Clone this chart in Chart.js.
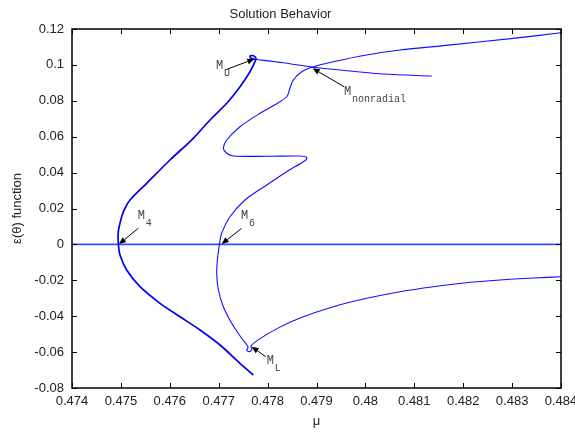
<!DOCTYPE html>
<html>
<head>
<meta charset="utf-8">
<title>Solution Behavior</title>
<script src="https://cdn.jsdelivr.net/npm/chart.js@4.4.1/dist/chart.umd.min.js"></script>
<style>
  html, body { margin: 0; padding: 0; background: #fff; }
</style>
</head>
<body>
<canvas id="chart" width="575" height="432"></canvas>
<script>
// branch through M4 (bottom end -> M_U loop)
const muLeft = [0.477708, 0.477436, 0.477027, 0.476618, 0.476209, 0.475800, 0.475391, 0.475118,
  0.474982, 0.474947, 0.474947, 0.475016, 0.475080, 0.475186, 0.475527, 0.476004, 0.476481, 0.476822,
  0.477164, 0.477436, 0.477640, 0.477742, 0.477763, 0.477708, 0.477640, 0.477661, 0.477742];
const epsLeft = [-0.07276, -0.06624, -0.05604, -0.04769, -0.04028, -0.03282, -0.02357, -0.01426,
  -0.00591, 0.00061, 0.00707, 0.01543, 0.02000, 0.02474, 0.03404, 0.04702, 0.05911, 0.06930,
  0.07861, 0.08786, 0.09621, 0.10178, 0.10368, 0.10513, 0.10496, 0.10368, 0.10312];

// thin branch leaving M_U to the right
const muUpper = [0.477742, 0.478321, 0.478934, 0.479685, 0.480366, 0.481356];
const epsUpper = [0.10312, 0.10123, 0.09866, 0.09660, 0.09493, 0.09382];

// branch through M_L, M6 and M_nonradial
const muRight = [0.484, 0.483434, 0.482753, 0.482071, 0.481389, 0.480708, 0.480026, 0.479344,
  0.478663, 0.478222, 0.477845, 0.477660, 0.477680, 0.477630, 0.477575, 0.477600,
  0.477470, 0.477266, 0.477095, 0.476994, 0.476960, 0.476973, 0.477013, 0.477061, 0.477231,
  0.477538, 0.477981, 0.478390, 0.478785, 0.478799, 0.478663, 0.477981, 0.477299, 0.477164,
  0.477095, 0.477164, 0.477436, 0.477845, 0.478254, 0.478403, 0.478444, 0.478526, 0.478697,
  0.478934, 0.479344, 0.480026, 0.480708, 0.481700, 0.483025, 0.484];
const epsRight = [-0.0180, -0.01872, -0.01983, -0.02134, -0.02357, -0.02635, -0.03003, -0.03471,
  -0.04100, -0.04650, -0.05250, -0.05650, -0.05850, -0.05975, -0.05900, -0.05720,
  -0.05231, -0.04396, -0.03471, -0.02540, -0.01610, -0.00869, -0.00033, 0.00618, 0.01543,
  0.02474, 0.03309, 0.04050, 0.04702, 0.04852, 0.04925, 0.04908, 0.04925, 0.05075,
  0.05354, 0.05816, 0.06557, 0.07304, 0.07950, 0.08267, 0.08602, 0.09159, 0.09621,
  0.09900, 0.10178, 0.10552, 0.10830, 0.11100, 0.11480, 0.11790];

// trivial solution
const muZero = [0.474, 0.484];
const epsZero = [0, 0];

const xTickValues = [0.474, 0.475, 0.476, 0.477, 0.478, 0.479, 0.48, 0.481, 0.482, 0.483, 0.484];
const xTickLabels = ["0.474", "0.475", "0.476", "0.477", "0.478", "0.479", "0.48", "0.481", "0.482", "0.483", "0.484"];
const yTickValues = [-0.08, -0.06, -0.04, -0.02, 0, 0.02, 0.04, 0.06, 0.08, 0.1, 0.12];
const yTickLabels = ["-0.08", "-0.06", "-0.04", "-0.02", "0", "0.02", "0.04", "0.06", "0.08", "0.1", "0.12"];

// arrow labels: text anchor, arrow tail and arrow tip, in data units
const noteSub = ["4", "6", "U", "L", "nonradial"];
const noteTextMu = [0.475343, 0.477456, 0.476945, 0.477981, 0.479562];
const noteTextEps = [0.0140, 0.0140, 0.09755, -0.06663, 0.08323];
const noteTailMu = [0.475356, 0.477470, 0.477129, 0.477961, 0.479562];
const noteTailEps = [0.00897, 0.00897, 0.09716, -0.06256, 0.08786];
const noteTipMu = [0.474961, 0.477061, 0.477728, 0.477675, 0.478922];
const noteTipEps = [0.00022, 0.00022, 0.10329, -0.05700, 0.09810];

const sansFont = "'Liberation Sans', Arial, sans-serif";

function toPoints(xs, ys) {
  return xs.map((x, i) => ({ x: x, y: ys[i] }));
}

const frameAndNotes = {
  id: "frameAndNotes",
  afterDraw(chart) {
    const { ctx, chartArea: a, scales } = chart;
    ctx.save();
    // frame with inward ticks on all sides (gnuplot style)
    ctx.strokeStyle = "#000";
    ctx.lineWidth = 1.5;
    ctx.strokeRect(a.left, a.top, a.right - a.left, a.bottom - a.top);
    ctx.lineWidth = 1;
    ctx.beginPath();
    xTickValues.forEach((v) => {
      const px = Math.round(scales.x.getPixelForValue(v)) + 0.5;
      ctx.moveTo(px, a.bottom); ctx.lineTo(px, a.bottom - 5);
      ctx.moveTo(px, a.top); ctx.lineTo(px, a.top + 5);
    });
    yTickValues.forEach((v) => {
      const py = Math.round(scales.y.getPixelForValue(v)) + 0.5;
      ctx.moveTo(a.left, py); ctx.lineTo(a.left + 5, py);
      ctx.moveTo(a.right, py); ctx.lineTo(a.right - 5, py);
    });
    ctx.stroke();

    // arrows and labels
    noteSub.forEach((sub, i) => {
      const x0 = scales.x.getPixelForValue(noteTailMu[i]);
      const y0 = scales.y.getPixelForValue(noteTailEps[i]);
      const x1 = scales.x.getPixelForValue(noteTipMu[i]);
      const y1 = scales.y.getPixelForValue(noteTipEps[i]);
      const ang = Math.atan2(y1 - y0, x1 - x0);
      const len = 7, half = 3;
      const bx = x1 - len * Math.cos(ang), by = y1 - len * Math.sin(ang);
      ctx.strokeStyle = "#000";
      ctx.lineWidth = 1;
      ctx.beginPath();
      ctx.moveTo(x0, y0);
      ctx.lineTo(bx, by);
      ctx.stroke();
      ctx.fillStyle = "#000";
      ctx.beginPath();
      ctx.moveTo(x1, y1);
      ctx.lineTo(bx + half * Math.sin(ang), by - half * Math.cos(ang));
      ctx.lineTo(bx - half * Math.sin(ang), by + half * Math.cos(ang));
      ctx.closePath();
      ctx.fill();

      const tx = scales.x.getPixelForValue(noteTextMu[i]);
      const ty = scales.y.getPixelForValue(noteTextEps[i]);
      ctx.fillStyle = "#444";
      ctx.textAlign = "left";
      ctx.textBaseline = "alphabetic";
      ctx.font = "12px 'Liberation Mono', 'DejaVu Sans Mono', monospace";
      ctx.fillText("M", tx, ty);
      ctx.font = "10px 'Liberation Mono', 'DejaVu Sans Mono', monospace";
      ctx.fillText(sub, tx + 8, ty + 7);
    });
    ctx.restore();
  },
};

const lineStyle = {
  showLine: true,
  pointRadius: 0,
  pointHoverRadius: 0,
  fill: false,
  tension: 0.3,
};

new Chart(document.getElementById("chart"), {
  type: "scatter",
  data: {
    datasets: [
      { ...lineStyle, data: toPoints(muLeft, epsLeft), borderColor: "#0000f0", borderWidth: 1.7 },
      { ...lineStyle, data: toPoints(muUpper, epsUpper), borderColor: "#1010ff", borderWidth: 1.1 },
      { ...lineStyle, data: toPoints(muRight, epsRight), borderColor: "#1010ff", borderWidth: 1.1 },
      { ...lineStyle, data: toPoints(muZero, epsZero), borderColor: "#3050ff", borderWidth: 1.6, tension: 0 },
    ],
  },
  options: {
    responsive: false,
    animation: false,
    layout: { padding: { left: 0, right: 14, top: 0, bottom: 0 } },
    plugins: {
      legend: { display: false },
      tooltip: { enabled: false },
      title: {
        display: true,
        text: "Solution Behavior",
        color: "#222",
        font: { family: sansFont, size: 13, weight: "normal" },
        padding: { top: 6.2, bottom: 7.2 },
      },
    },
    scales: {
      x: {
        type: "linear",
        min: 0.474,
        max: 0.484,
        grid: { display: false, drawTicks: false },
        border: { display: false },
        afterBuildTicks: (scale) => { scale.ticks = xTickValues.map((v) => ({ value: v })); },
        afterFit: (scale) => { scale.height = 44; scale.paddingLeft = 0; scale.paddingRight = 0; },
        ticks: {
          autoSkip: false,
          maxRotation: 0,
          padding: 6,
          color: "#222",
          font: { family: sansFont, size: 13 },
          callback: (value, index) => xTickLabels[index],
        },
        title: {
          display: true,
          text: "μ",
          color: "#222",
          font: { family: sansFont, size: 13 },
          padding: { top: 0, bottom: 2.5 },
        },
      },
      y: {
        type: "linear",
        min: -0.08,
        max: 0.12,
        grid: { display: false, drawTicks: false },
        border: { display: false },
        afterBuildTicks: (scale) => { scale.ticks = yTickValues.map((v) => ({ value: v })); },
        afterFit: (scale) => { scale.width = 72; },
        ticks: {
          autoSkip: false,
          padding: 8,
          color: "#222",
          font: { family: sansFont, size: 13 },
          callback: (value, index) => yTickLabels[index],
        },
        title: {
          display: true,
          text: "ε(θ) function",
          color: "#222",
          font: { family: sansFont, size: 13 },
          padding: { top: 10, bottom: 0 },
        },
      },
    },
  },
  plugins: [frameAndNotes],
});
</script>
</body>
</html>
